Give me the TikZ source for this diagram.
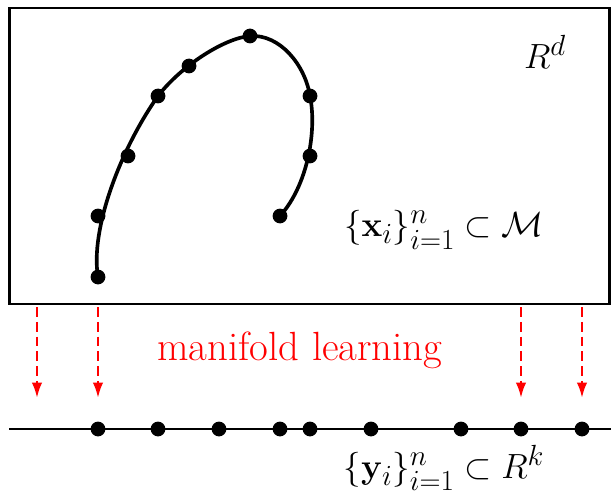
\documentclass[tikz,border=0pt]{standalone}
\usepackage{amsmath,amssymb}
\usepackage{xcolor}
\usepackage{tikz}
\usetikzlibrary{arrows.meta,positioning,calc}

\begin{document}
\begin{tikzpicture}[>={Latex[length=11pt,width=7.5pt]},
  dot/.style={circle,fill=black,inner sep=0pt,minimum size=0.37cm},
  maparrow/.style={->,red,line width=1.8pt,dash pattern=on 7pt off 3.5pt},
  bigfont/.style={font=\fontsize{29}{35}\selectfont}]
\useasboundingbox (0,0) rectangle (15.275,-12.275);
% ambient space
\node[draw,line width=2.1pt,minimum width=15.02cm,minimum height=7.4cm,inner sep=0pt] (ambient) at (7.7375,-3.9) {};
\node[bigfont] (rd) at (13.625,-1.3) {$R^d$};
\node[bigfont] (xset) at (11.1,-5.75) {$\{\mathbf{x}_i\}_{i=1}^n \subset \mathcal{M}$};
% samples on the manifold
\coordinate (p1) at (2.45,-6.925);
\coordinate (p2) at (2.45,-5.4);
\coordinate (p3) at (3.2,-3.9);
\coordinate (p4) at (3.95,-2.4);
\coordinate (p5) at (4.725,-1.65);
\coordinate (p6) at (6.25,-0.9);
\coordinate (p7) at (7.75,-2.4);
\coordinate (p8) at (7.75,-3.9);
\coordinate (p9) at (7,-5.4);
\draw[line width=2.6pt] (p1) .. controls (2.25,-5.75) and (3,-3.75) .. (p4)
  .. controls (4.55,-1.625) and (5.625,-0.95) .. (p6)
  .. controls (7,-0.85) and (7.625,-1.625) .. (p7)
  .. controls (7.925,-3.25) and (7.7,-4.625) .. (p9);
\foreach \i in {1,...,9}
  \node[dot] (x\i) at (p\i) {};
% embedding
\coordinate (left) at (0.225,-10.725);
\coordinate (right) at (15.275,-10.725);
\draw[line width=2pt] (left) -- (right);
\foreach \x [count=\i] in {2.45,3.95,5.475,7,7.75,9.275,11.525,13.025,14.55}
  \node[dot] (y\i) at (\x,-10.725) {};
\node[bigfont] (yset) at (11.1,-11.7) {$\{\mathbf{y}_i\}_{i=1}^n \subset R^k$};
% mapping
\foreach \x [count=\i] in {0.925,2.45,13.025,14.55}{
  \coordinate (s\i) at (\x,-7.675);
  \coordinate (t\i) at (\x,-9.95);
  \draw[maparrow] (s\i) -- (t\i);
}
\node[bigfont,red] (ml) at (7.5,-8.75) {manifold learning};
\end{tikzpicture}
\end{document}
